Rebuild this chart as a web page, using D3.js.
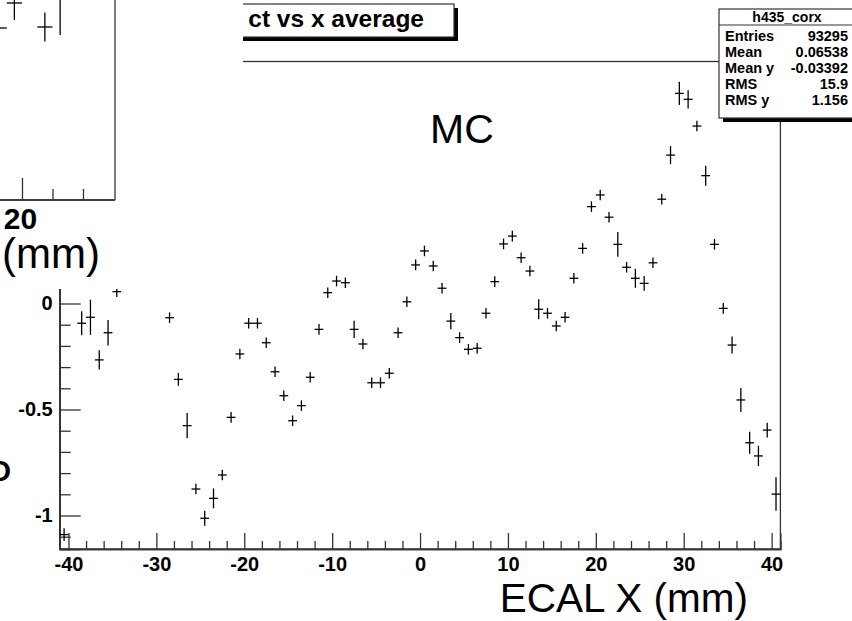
<!DOCTYPE html>
<html><head><meta charset="utf-8">
<script src="https://cdn.jsdelivr.net/npm/d3@7/dist/d3.min.js"></script>
<style>
html,body{margin:0;padding:0;background:#fff;}
svg{display:block;font-family:"Liberation Sans",Arial,Helvetica,sans-serif;}
</style></head>
<body>
<svg id="chart" width="852" height="621"></svg>
<script>
// ---- main histogram profile: x bin centres (mm), mean values, errors ----
const xBins = [-40.5,-38.5,-37.5,-36.5,-35.5,-34.5,
  -28.5,-27.5,-26.5,-25.5,-24.5,-23.5,-22.5,-21.5,-20.5,-19.5,-18.5,-17.5,-16.5,-15.5,-14.5,-13.5,-12.5,-11.5,
  -10.5,-9.5,-8.5,-7.5,-6.5,-5.5,-4.5,-3.5,-2.5,-1.5,-0.5,0.5,1.5,2.5,3.5,4.5,5.5,6.5,7.5,8.5,9.5,10.5,11.5,12.5,13.5,14.5,15.5,16.5,
  17.5,18.5,19.5,20.5,21.5,22.5,23.5,24.5,25.5,26.5,27.5,28.5,29.5,30.5,31.5,32.5,33.5,34.5,35.5,36.5,37.5,38.5,39.5,40.5];
const yValues = [-1.09,-0.093,-0.065,-0.266,-0.138,0.056,
  -0.067,-0.358,-0.576,-0.875,-1.013,-0.919,-0.809,-0.537,-0.238,-0.093,-0.093,-0.185,-0.322,-0.435,-0.553,-0.482,-0.348,-0.122,
  0.051,0.106,0.098,-0.122,-0.191,-0.374,-0.374,-0.329,-0.138,0.008,0.182,0.248,0.177,0.072,-0.083,-0.161,-0.216,-0.211,-0.046,0.103,0.281,0.318,0.216,0.153,-0.027,-0.046,-0.106,-0.065,
  0.119,0.260,0.457,0.512,0.407,0.279,0.171,0.119,0.095,0.192,0.492,0.700,0.991,0.963,0.837,0.603,0.279,-0.023,-0.196,-0.455,-0.657,-0.719,-0.597,-0.899];
const yErrors = [0.03,0.057,0.083,0.045,0.06,0.025,
  0.025,0.03,0.06,0.025,0.035,0.047,0.025,0.025,0.025,0.025,0.025,0.025,0.025,0.025,0.025,0.025,0.025,0.025,
  0.025,0.025,0.025,0.041,0.025,0.025,0.025,0.025,0.025,0.025,0.025,0.025,0.025,0.025,0.038,0.025,0.025,0.025,0.025,0.025,0.025,0.025,0.025,0.025,0.047,0.025,0.025,0.025,
  0.025,0.025,0.025,0.025,0.025,0.058,0.025,0.045,0.035,0.025,0.025,0.043,0.055,0.043,0.025,0.047,0.025,0.025,0.04,0.057,0.052,0.048,0.035,0.079];
const binHalfWidth = 0.5;

const xMajorTicks = [-40,-30,-20,-10,0,10,20,30,40];
const xMinorTicks = [-38,-36,-34,-32,-28,-26,-24,-22,-18,-16,-14,-12,-8,-6,-4,-2,2,4,6,8,12,14,16,18,22,24,26,28,32,34,36,38];
const yMajorTicks = [-1,-0.5,0,0.5,1];
const yMinorTicks = [-1.1,-0.9,-0.8,-0.7,-0.6,-0.4,-0.3,-0.2,-0.1,0.1,0.2,0.3,0.4,0.6,0.7,0.8,0.9,1.1];

const titleText = "ct vs x average";
const xTitle = "ECAL X (mm)";
const labelText = "MC";
const statsTitle = "h435_corx";
const statNames = ["Entries","Mean","Mean y","RMS","RMS y"];
const statValues = ["93295","0.06538","-0.03392","15.9","1.156"];

// ---- overlapping neighbour pad (partially visible) ----
const insetBins = [18.5,19.5,21.5,22.5];
const insetValues = [-0.30,-0.175,-0.295,-0.12];
const insetErrors = [0.03,0.085,0.0725,0.215];
const insetMajorTicks = [20];
const insetMinorTicks = [12,14,16,18,22,24];
const insetTitleTail = "(mm)";

const svg = d3.select("#chart");
const ink = "#000";
const axisCol = "#333";

// ---------------- main pad ----------------
const x = d3.scaleLinear().domain([-41,41]).range([59.7,780.4]);
const y = d3.scaleLinear().domain([-1.158,1.1415]).range([549,61.5]);
const main = svg.append("g");

// frame
main.append("rect").attr("x",x.range()[0]).attr("y",y.range()[1])
  .attr("width",x.range()[1]-x.range()[0]).attr("height",y.range()[0]-y.range()[1])
  .attr("fill","none").attr("stroke",axisCol).attr("stroke-width",1.3);

function styleAxis(g){
  g.selectAll(".domain").attr("stroke",axisCol).attr("stroke-width",1.3);
  g.selectAll(".tick line").attr("stroke",axisCol).attr("stroke-width",1.3);
  g.selectAll("text").attr("fill",ink).attr("font-weight","bold")
    .attr("font-family","'Liberation Sans',Arial,Helvetica,sans-serif");
}
const fmt = d => String(d);
// x axis
main.append("g").attr("transform",`translate(0,${y.range()[0]})`)
  .call(d3.axisBottom(x).tickValues(xMinorTicks).tickSize(-8).tickFormat(""))
  .call(styleAxis);
main.append("g").attr("transform",`translate(0,${y.range()[0]})`)
  .call(d3.axisBottom(x).tickValues(xMajorTicks).tickSize(-16).tickPadding(8).tickFormat(fmt))
  .call(styleAxis).call(g=>g.selectAll("text").attr("font-size",20));
// y axis
main.append("g").attr("transform",`translate(${x.range()[0]},0)`)
  .call(d3.axisLeft(y).tickValues(yMinorTicks).tickSize(-11).tickFormat(""))
  .call(styleAxis);
main.append("g").attr("transform",`translate(${x.range()[0]},0)`)
  .call(d3.axisLeft(y).tickValues(yMajorTicks).tickSize(-21).tickPadding(7).tickFormat(fmt))
  .call(styleAxis).call(g=>g.selectAll("text").attr("font-size",20));

// data crosses
const pts = xBins.map((b,i)=>({x:b,y:yValues[i],e:yErrors[i]}));
const cross = main.append("g").attr("stroke",ink).attr("stroke-width",1.3);
cross.selectAll("line.h").data(pts).join("line").attr("class","h")
  .attr("x1",d=>Math.max(x(d.x-binHalfWidth),x.range()[0])).attr("x2",d=>x(d.x+binHalfWidth))
  .attr("y1",d=>y(d.y)).attr("y2",d=>y(d.y));
cross.selectAll("line.v").data(pts).join("line").attr("class","v")
  .attr("x1",d=>x(d.x)).attr("x2",d=>x(d.x))
  .attr("y1",d=>y(d.y+d.e)).attr("y2",d=>Math.min(y(d.y-d.e),y.range()[0]));

// axis title & label
main.append("text").attr("x",748).attr("y",612).attr("text-anchor","end")
  .attr("font-size",40.5).attr("fill",ink).text(xTitle);
main.append("text").attr("x",430).attr("y",143)
  .attr("font-size",41).attr("fill",ink).text(labelText);
// fragment of a rotated title at the far left edge
main.append("text").attr("x",-11.5).attr("y",481).attr("font-size",29)
  .attr("font-weight","bold").attr("fill",ink).text("O");

// title box
const tb = {x:150,y:4,w:304,h:33};
main.append("rect").attr("x",tb.x+4).attr("y",tb.y+4).attr("width",tb.w).attr("height",tb.h).attr("fill","#000");
main.append("rect").attr("x",tb.x).attr("y",tb.y).attr("width",tb.w).attr("height",tb.h)
  .attr("fill","#fff").attr("stroke",axisCol).attr("stroke-width",1.2);
main.append("text").attr("x",424).attr("y",27).attr("text-anchor","end")
  .attr("font-size",24.5).attr("font-weight","bold").attr("fill",ink).text(titleText);

// stats box
const sb = {x:719,y:9,w:140,h:109};
main.append("rect").attr("x",sb.x+4).attr("y",sb.y+4).attr("width",sb.w).attr("height",sb.h).attr("fill","#000");
main.append("rect").attr("x",sb.x).attr("y",sb.y).attr("width",sb.w).attr("height",sb.h)
  .attr("fill","#fff").attr("stroke",axisCol).attr("stroke-width",1.2);
main.append("line").attr("x1",sb.x).attr("x2",sb.x+sb.w).attr("y1",25).attr("y2",25)
  .attr("stroke",axisCol).attr("stroke-width",1.2);
main.append("text").attr("x",787).attr("y",22).attr("text-anchor","middle")
  .attr("font-size",14).attr("font-weight","bold").attr("fill",ink).text(statsTitle);
const rowY = d3.scaleLinear().domain([0,4]).range([41,104.7]);
main.append("g").selectAll("text").data(statNames).join("text")
  .attr("x",725).attr("y",(d,i)=>rowY(i)).attr("font-size",14.5).attr("font-weight","bold")
  .attr("fill",ink).text(d=>d);
main.append("g").selectAll("text").data(statValues).join("text")
  .attr("x",848).attr("y",(d,i)=>rowY(i)).attr("text-anchor","end").attr("font-size",14.5)
  .attr("font-weight","bold").attr("fill",ink).text(d=>d);

// ---------------- neighbour pad overlapping top-left ----------------
const pad = svg.append("g");
pad.append("rect").attr("x",0).attr("y",0).attr("width",243).attr("height",289).attr("fill","#fff");
const ix = d3.scaleLinear().domain([20,26.1]).range([22,115]);
const iy = d3.scaleLinear().domain([-1.16,1.14]).range([200,-260]);
pad.append("line").attr("x1",115).attr("x2",115).attr("y1",-5).attr("y2",200)
  .attr("stroke",axisCol).attr("stroke-width",1.3);
pad.append("g").attr("transform","translate(0,200)")
  .call(d3.axisBottom(ix).tickValues(insetMinorTicks).tickSize(-11).tickFormat(""))
  .call(styleAxis).call(g=>g.select(".domain").attr("d","M-300,0H115"));
pad.append("g").attr("transform","translate(0,200)")
  .call(d3.axisBottom(ix).tickValues(insetMajorTicks).tickSize(-22).tickPadding(8).tickFormat(fmt))
  .call(styleAxis).call(g=>g.select(".domain").attr("d","M-300,0H115"))
  .call(g=>g.selectAll("text").attr("font-size",30).attr("dx",-2));
pad.append("text").attr("x",100).attr("y",268).attr("text-anchor","end")
  .attr("font-size",42).attr("fill",ink).text(insetTitleTail);
const ipts = insetBins.map((b,i)=>({x:b,y:insetValues[i],e:insetErrors[i]}));
const ic = pad.append("g").attr("stroke",ink).attr("stroke-width",1.3);
ic.selectAll("line.h").data(ipts).join("line").attr("class","h")
  .attr("x1",d=>ix(d.x-binHalfWidth)).attr("x2",d=>ix(d.x+binHalfWidth))
  .attr("y1",d=>iy(d.y)).attr("y2",d=>iy(d.y));
ic.selectAll("line.v").data(ipts).join("line").attr("class","v")
  .attr("x1",d=>ix(d.x)).attr("x2",d=>ix(d.x))
  .attr("y1",d=>iy(d.y+d.e)).attr("y2",d=>iy(d.y-d.e));
</script>
</body></html>
